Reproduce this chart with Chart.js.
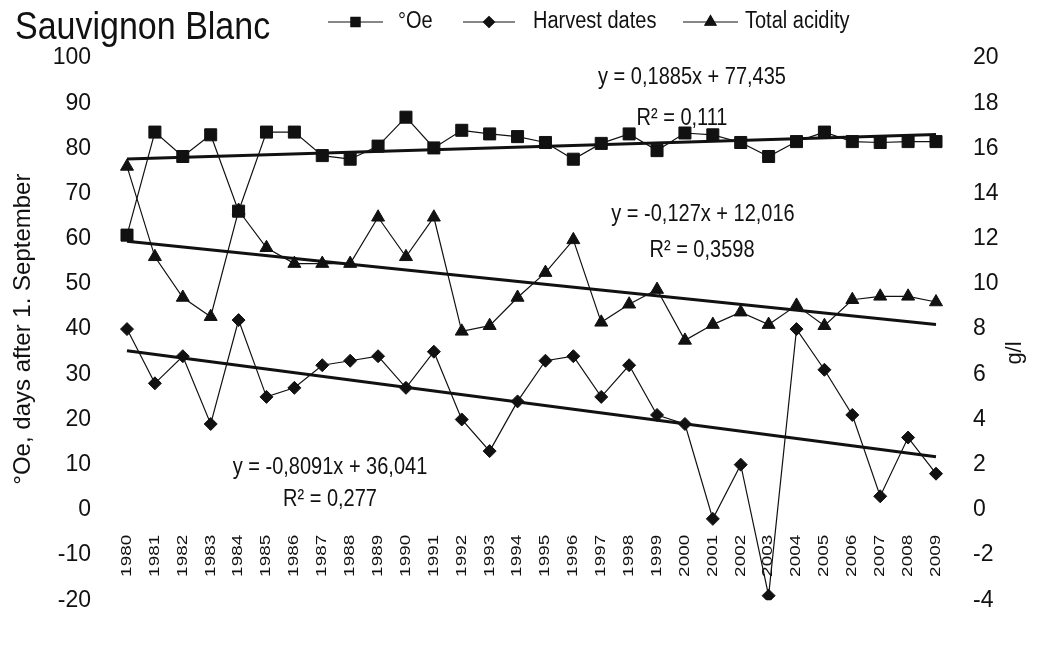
<!DOCTYPE html>
<html>
<head>
<meta charset="utf-8">
<title>Sauvignon Blanc</title>
<script src="https://cdn.jsdelivr.net/npm/chart.js@4.4.1/dist/chart.umd.min.js"></script>
<style>
  html, body { margin: 0; padding: 0; background: #fff; }
  canvas { display: block; }
</style>
</head>
<body>
<canvas id="chart" width="1037" height="651"></canvas>
<script>
// Vintages 1980–2009
const years = ['1980','1981','1982','1983','1984','1985','1986','1987','1988','1989',
               '1990','1991','1992','1993','1994','1995','1996','1997','1998','1999',
               '2000','2001','2002','2003','2004','2005','2006','2007','2008','2009'];

// Must weight in degrees Oechsle (left axis)
const oechsle = [60.8, 83.6, 78.2, 83.0, 66.1, 83.6, 83.6, 78.4, 77.6, 80.5,
                 86.9, 80.1, 84.0, 83.2, 82.6, 81.3, 77.6, 81.1, 83.2, 79.5,
                 83.4, 83.0, 81.3, 78.2, 81.5, 83.6, 81.5, 81.3, 81.5, 81.5];

// Harvest date, days after 1 September (left axis)
const harvestDays = [40, 28, 34, 19, 42, 25, 27, 32, 33, 34,
                     27, 35, 20, 13, 24, 33, 34, 25, 32, 21,
                     19, -2, 10, -19, 40, 31, 21, 3, 16, 8];

// Total acidity in g/l (right axis)
const totalAcidity = [15.2, 11.2, 9.4, 8.55, 13.25, 11.6, 10.9, 10.9, 10.9, 12.95,
                      11.2, 12.95, 7.9, 8.15, 9.4, 10.5, 11.95, 8.3, 9.1, 9.75,
                      7.5, 8.2, 8.75, 8.2, 9.05, 8.15, 9.3, 9.45, 9.45, 9.2];

// Linear trends y = slope * x + intercept, x = 1 .. 30
const trendSlope     = [0.1885, -0.8091, -0.127];
const trendIntercept = [77.435, 36.041, 12.016];
const trendR2        = ['0,111', '0,277', '0,3598'];
const trendAxis      = ['y', 'y', 'y1'];

// Axis ranges
const leftTicks  = { min: -20, max: 100, step: 10 };
const rightTicks = { min: -4,  max: 20,  step: 2 };

const FONT = "'Liberation Sans', Arial, sans-serif";
const INK = '#111';

function fmt(v, digits) {
  return v.toFixed(digits).replace('.', ',');
}
function equationText(i) {
  const s = trendSlope[i];
  const digits = String(Math.abs(s)).split('.')[1].length;
  const idigits = String(trendIntercept[i]).split('.')[1].length;
  return 'y = ' + (s < 0 ? '-' : '') + fmt(Math.abs(s), digits) + 'x + ' + fmt(trendIntercept[i], idigits);
}
function trendPoints(i) {
  const n = years.length;
  return [
    { x: years[0],     y: trendIntercept[i] + trendSlope[i] * 1 },
    { x: years[n - 1], y: trendIntercept[i] + trendSlope[i] * n }
  ];
}

const seriesStyle = (style, radius) => ({
  borderColor: INK,
  borderWidth: 1.2,
  backgroundColor: INK,
  pointStyle: style,
  pointRadius: radius,
  pointBackgroundColor: INK,
  pointBorderColor: INK,
  pointBorderWidth: 1,
  tension: 0,
  fill: false
});

const trendStyle = {
  borderColor: INK,
  borderWidth: 3,
  pointRadius: 0,
  tension: 0,
  fill: false
};

// Text drawn with a slight stretch, as in the printed figure
function stretchedText(ctx, text, x, y, size, align, sy, rot, sx) {
  ctx.save();
  ctx.font = size + 'px ' + FONT;
  ctx.fillStyle = INK;
  ctx.textAlign = align;
  ctx.textBaseline = 'middle';
  ctx.translate(x, y);
  if (rot) ctx.rotate(rot);
  ctx.scale(sx || 1, sy);
  ctx.fillText(text, 0, 0);
  ctx.restore();
}

const legendItems = [
  { label: '°Oe',           style: 'rect',     r: 6.5, x0: 328, x1: 383, tx: 398 },
  { label: 'Harvest dates', style: 'rectRot',  r: 5.5, x0: 463, x1: 515, tx: 533 },
  { label: 'Total acidity', style: 'triangle', r: 6.5, x0: 683, x1: 738, tx: 745 }
];

const trendLabelPos = [
  { eq: [692, 77],  r2: [682, 118] },
  { eq: [330, 467], r2: [330, 499] },
  { eq: [703, 214], r2: [702, 250] }
];

const decorations = {
  id: 'decorations',
  afterDraw(chart) {
    const ctx = chart.ctx;
    const xs = chart.scales.x;
    const ys = chart.scales.y;
    // Year labels hang below the zero line of the left axis
    const zeroY = ys.getPixelForValue(0);
    years.forEach((yr, i) => {
      stretchedText(ctx, yr, xs.getPixelForValue(i), zeroY + 25, 14, 'right', 1, -Math.PI / 2, 1.35);
    });
    // Title
    stretchedText(ctx, 'Sauvignon Blanc', 15, 28, 34, 'left', 1.15);
    // Legend
    legendItems.forEach(item => {
      const y = 22;
      ctx.save();
      ctx.strokeStyle = INK;
      ctx.lineWidth = 1.2;
      ctx.beginPath();
      ctx.moveTo(item.x0, y);
      ctx.lineTo(item.x1, y);
      ctx.stroke();
      ctx.fillStyle = INK;
      Chart.helpers.drawPoint(ctx, { pointStyle: item.style, radius: item.r, borderWidth: 1, rotation: 0 },
                              (item.x0 + item.x1) / 2, y);
      ctx.fill();
      ctx.restore();
      stretchedText(ctx, item.label, item.tx, y, 20, 'left', 1.15);
    });
    // Trend equations
    trendLabelPos.forEach((p, i) => {
      stretchedText(ctx, equationText(i), p.eq[0], p.eq[1], 20, 'center', 1.2);
      stretchedText(ctx, 'R² = ' + trendR2[i], p.r2[0], p.r2[1], 20, 'center', 1.2);
    });
    // Right axis title
    stretchedText(ctx, 'g/l', 1015, 353, 22, 'center', 1.0, -Math.PI / 2);
  }
};

new Chart(document.getElementById('chart'), {
  type: 'line',
  data: {
    labels: years,
    datasets: [
      Object.assign({ label: '°Oe', data: oechsle, yAxisID: 'y' }, seriesStyle('rect', 8.5)),
      Object.assign({ label: 'Harvest dates', data: harvestDays, yAxisID: 'y' }, seriesStyle('rectRot', 6.5)),
      Object.assign({ label: 'Total acidity', data: totalAcidity, yAxisID: 'y1' }, seriesStyle('triangle', 7.5)),
      Object.assign({ label: 'trend °Oe', data: trendPoints(0), yAxisID: trendAxis[0] }, trendStyle),
      Object.assign({ label: 'trend harvest', data: trendPoints(1), yAxisID: trendAxis[1] }, trendStyle),
      Object.assign({ label: 'trend acidity', data: trendPoints(2), yAxisID: trendAxis[2] }, trendStyle)
    ]
  },
  options: {
    responsive: false,
    animation: false,
    devicePixelRatio: 1,
    layout: { padding: { left: 0, right: 0, top: 58, bottom: 14 } },
    plugins: {
      legend: { display: false },
      tooltip: { enabled: false },
      title: { display: false }
    },
    scales: {
      x: {
        type: 'category',
        offset: false,
        position: 'bottom',
        grid: { display: false, drawTicks: false },
        border: { display: false },
        ticks: { display: false },
        afterFit(scale) { scale.height = 0; }
      },
      y: {
        type: 'linear',
        position: 'left',
        min: leftTicks.min,
        max: leftTicks.max,
        grid: { display: false, drawTicks: false },
        border: { display: false },
        ticks: {
          stepSize: leftTicks.step,
          padding: 36,
          color: INK,
          font: { family: FONT, size: 23 }
        },
        title: {
          display: true,
          text: '°Oe, days after 1. September',
          color: INK,
          font: { family: FONT, size: 24 },
          padding: { top: 9, bottom: 0 }
        },
        afterFit(scale) { scale.width = 127; }
      },
      y1: {
        type: 'linear',
        position: 'right',
        min: rightTicks.min,
        max: rightTicks.max,
        grid: { display: false, drawTicks: false },
        border: { display: false },
        ticks: {
          stepSize: rightTicks.step,
          padding: 37,
          color: INK,
          font: { family: FONT, size: 23 }
        },
        afterFit(scale) { scale.width = 101; }
      }
    }
  },
  plugins: [decorations]
});
</script>
</body>
</html>
